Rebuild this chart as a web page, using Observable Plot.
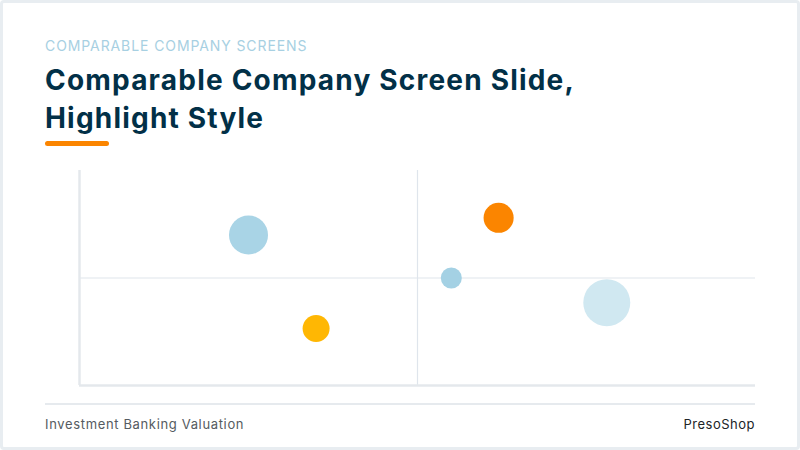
<!DOCTYPE html>
<html>
<head>
<meta charset="utf-8">
<script src="https://cdn.jsdelivr.net/npm/d3@7"></script>
<script src="https://cdn.jsdelivr.net/npm/@observablehq/plot@0.6"></script>
<style>
  html, body { margin: 0; padding: 0; background: #ffffff; }
  #card {
    position: relative; width: 800px; height: 450px; box-sizing: border-box;
    border: 3px solid #e8edf1; border-radius: 4px; background: #fff;
    font-family: Inter, "Open Sans", sans-serif; overflow: hidden;
  }
  #eyebrow { position: absolute; left: 42px; top: 34px; font-size: 14px; color: #a7d0e2; letter-spacing: 0.9px; }
  #title { position: absolute; left: 42px; top: 58px; font-size: 28px; line-height: 38px; font-weight: 700; color: #023047; letter-spacing: 1.2px; }
  #bar { position: absolute; left: 42px; top: 138px; width: 64px; height: 5px; border-radius: 3px; background: #fb8500; }
  #chart { position: absolute; left: -3px; top: 157px; width: 800px; }
  #chart svg { max-width: none; }
  #rule { position: absolute; left: 42px; top: 400px; width: 710px; height: 2px; background: #e6eaee; }
  #foot-l { position: absolute; left: 42px; top: 413px; font-size: 13px; color: #555b61; letter-spacing: 0.65px; }
  #foot-r { position: absolute; right: 42px; top: 413px; font-size: 13px; color: #202427; font-weight: 400; letter-spacing: 0.5px; }
</style>
</head>
<body>
<div id="card">
  <div id="eyebrow">COMPARABLE COMPANY SCREENS</div>
  <div id="title">Comparable Company Screen Slide,<br>Highlight Style</div>
  <div id="bar"></div>
  <div id="chart"></div>
  <div id="rule"></div>
  <div id="foot-l">Investment Banking Valuation</div>
  <div id="foot-r">PresoShop</div>
</div>
<script>
// Data
const companies = ["Peer A", "Peer B", "Target", "Peer C", "Peer D"];
const xValues = [2.5, 3.5, 6.2, 5.5, 7.8];
const yValues = [7.0, 2.65, 7.8, 5.0, 3.85];
const sizes = [69, 33, 41, 20, 100];
const colorRange = ["#a9d4e6", "#ffb703", "#fb8500", "#a4d1e4", "#d0e8f1"];
const xMid = [5];
const yMid = [5];

const data = companies.map((c, i) => ({company: c, x: xValues[i], y: yValues[i], size: sizes[i]}));

const chart = Plot.plot({
  width: 800,
  height: 235,
  marginLeft: 79,
  marginRight: 45,
  marginTop: 10,
  marginBottom: 10,
  style: {maxWidth: "none"},
  x: {domain: [0, 10], axis: null},
  y: {domain: [0, 10], axis: null},
  r: {type: "sqrt", domain: [0, 100], range: [0, 23.5]},
  color: {domain: companies, range: colorRange},
  marks: [
    Plot.ruleX(xMid, {stroke: "#dfe5ec", strokeWidth: 1.2}),
    Plot.ruleY(yMid, {stroke: "#dfe5ec", strokeWidth: 1.2}),
    Plot.ruleX([0], {stroke: "#e4e8ec", strokeWidth: 2.5}),
    Plot.ruleY([0], {stroke: "#e4e8ec", strokeWidth: 2.5}),
    Plot.dot(data, {x: "x", y: "y", r: "size", fill: "company", stroke: null})
  ]
});
document.getElementById("chart").appendChild(chart);
</script>
</body>
</html>
